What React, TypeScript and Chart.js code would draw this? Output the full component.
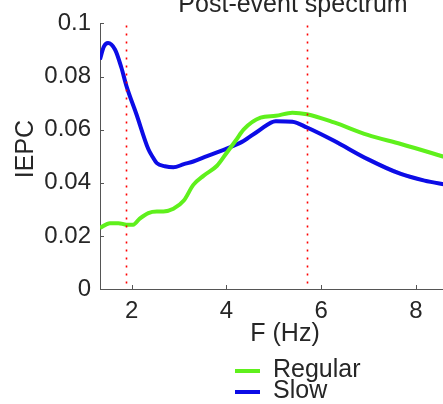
import React, { useEffect, useRef } from "react";
import { Chart, registerables } from "chart.js";
Chart.register(...registerables);

// ---- data ----
const freqSlow = [1.33, 1.41, 1.5, 1.65, 1.78, 1.89, 2.1, 2.35, 2.45, 2.53, 2.7, 2.88, 3.1, 3.3, 3.59, 3.8, 4.1, 4.36, 4.68, 5.04, 5.39, 5.7, 6.27, 6.98, 7.68, 8.18, 8.65];
const slowIEPC = [0.0864, 0.0912, 0.0926, 0.0901, 0.0835, 0.0764, 0.0658, 0.0527, 0.0495, 0.0474, 0.0462, 0.0458, 0.047, 0.048, 0.05, 0.0514, 0.0535, 0.0557, 0.0596, 0.0632, 0.063, 0.0608, 0.0558, 0.0489, 0.0433, 0.0408, 0.0392];

const freqRegular = [1.33, 1.54, 1.72, 1.89, 2.03, 2.17, 2.35, 2.53, 2.67, 2.88, 3.1, 3.3, 3.52, 3.8, 4.01, 4.2, 4.36, 4.72, 5.04, 5.39, 5.7, 6.27, 6.98, 7.68, 8.65];
const regularIEPC = [0.023, 0.0248, 0.0248, 0.0242, 0.0242, 0.0265, 0.0286, 0.0292, 0.0292, 0.0302, 0.0333, 0.0392, 0.0427, 0.0464, 0.0514, 0.056, 0.06, 0.0645, 0.0652, 0.0664, 0.0658, 0.0627, 0.058, 0.0546, 0.0495];

const freqBand = [4.68, 5.04, 5.39, 5.7, 6.27, 6.98, 7.68, 8.18, 8.65];
const slowUpper = [0.0601, 0.0638, 0.0637, 0.0616, 0.0567, 0.0498, 0.0441, 0.0414, 0.0398];
const slowLower = [0.0591, 0.0626, 0.0623, 0.06, 0.0549, 0.048, 0.0425, 0.0402, 0.0386];

const markerFreqs = [1.89, 5.7];
const xTickValues = [2, 4, 6, 8];
const yTickValues = [0, 0.02, 0.04, 0.06, 0.08, 0.1];
const seriesNames = ["Regular", "Slow"];
const titleText = "Post-event spectrum";
const xTitleText = "F (Hz)";
const yTitleText = "IEPC";

const GREEN = "#5ff01c";
const BLUE = "#0c0ce6";
const TEXT = "#262626";
const AXIS = "#555555";
const FONT = '"Liberation Sans", Arial, Helvetica, sans-serif';

const toPts = (xs: number[], ys: number[]) => xs.map((x, i) => ({ x, y: ys[i] }));

const decorations = {
  id: "decorations",
  afterDraw(chart: any) {
    const { ctx, chartArea, scales } = chart;
    const xs = scales.x;
    const ys = scales.y;
    ctx.save();
    // red dotted markers
    ctx.strokeStyle = "#ff0000";
    ctx.lineWidth = 1.6;
    ctx.setLineDash([2, 6]);
    markerFreqs.forEach((f) => {
      const px = Math.round(xs.getPixelForValue(f)) + 0.5;
      ctx.beginPath();
      ctx.moveTo(px, chartArea.top + 2);
      ctx.lineTo(px, chartArea.bottom);
      ctx.stroke();
    });
    ctx.setLineDash([]);
    // inward ticks
    ctx.strokeStyle = AXIS;
    ctx.lineWidth = 1;
    xTickValues.forEach((v) => {
      const px = Math.round(xs.getPixelForValue(v)) + 0.5;
      ctx.beginPath();
      ctx.moveTo(px, chartArea.bottom);
      ctx.lineTo(px, chartArea.bottom - 4);
      ctx.stroke();
    });
    yTickValues.forEach((v) => {
      const py = Math.round(ys.getPixelForValue(v)) + 0.5;
      ctx.beginPath();
      ctx.moveTo(chartArea.left, py);
      ctx.lineTo(chartArea.left + 4, py);
      ctx.stroke();
    });
    // texts
    ctx.fillStyle = TEXT;
    ctx.font = `25px ${FONT}`;
    ctx.textAlign = "center";
    ctx.textBaseline = "alphabetic";
    ctx.fillText(titleText, 293, 12);
    ctx.fillText(xTitleText, 285, 341);
    ctx.save();
    ctx.translate(33, 149);
    ctx.rotate(-Math.PI / 2);
    ctx.fillText(yTitleText, 0, 0);
    ctx.restore();
    // legend
    const colors = [GREEN, BLUE];
    const rows = [371, 392];
    seriesNames.forEach((name, i) => {
      ctx.strokeStyle = colors[i];
      ctx.lineWidth = 4;
      ctx.beginPath();
      ctx.moveTo(235, rows[i]);
      ctx.lineTo(260, rows[i]);
      ctx.stroke();
      ctx.fillStyle = TEXT;
      ctx.textAlign = "left";
      ctx.fillText(name, 273, rows[i] + 6);
    });
    ctx.restore();
  },
};

export default function App() {
  const ref = useRef<HTMLCanvasElement>(null);
  useEffect(() => {
    if (!ref.current) return;
    const chart = new Chart(ref.current, {
      type: "line",
      data: {
        datasets: [
          {
            label: seriesNames[0],
            data: toPts(freqRegular, regularIEPC),
            borderColor: GREEN,
            borderWidth: 4,
            pointRadius: 0,
            cubicInterpolationMode: "monotone",
            fill: false,
          },
          {
            label: seriesNames[1],
            data: toPts(freqSlow, slowIEPC),
            borderColor: BLUE,
            borderWidth: 4,
            pointRadius: 0,
            cubicInterpolationMode: "monotone",
            fill: false,
          },
          {
            label: "band-upper",
            data: toPts(freqBand, slowUpper),
            borderWidth: 0,
            borderColor: "rgba(0,0,0,0)",
            backgroundColor: "rgba(90,90,255,0.3)",
            pointRadius: 0,
            cubicInterpolationMode: "monotone",
            fill: "+1",
          },
          {
            label: "band-lower",
            data: toPts(freqBand, slowLower),
            borderWidth: 0,
            borderColor: "rgba(0,0,0,0)",
            pointRadius: 0,
            cubicInterpolationMode: "monotone",
            fill: false,
          },
        ],
      },
      options: {
        animation: false,
        responsive: false,
        layout: { padding: { left: 0, top: 22, right: 4, bottom: 0 } },
        plugins: { legend: { display: false }, tooltip: { enabled: false }, title: { display: false } },
        scales: {
          x: {
            type: "linear",
            min: 1.331,
            max: 9.055,
            afterFit: (s: any) => {
              s.height = 115;
            },
            afterBuildTicks: (s: any) => {
              s.ticks = xTickValues.map((v) => ({ value: v }));
            },
            grid: { display: true, drawOnChartArea: false, drawTicks: false },
            border: { display: true, color: AXIS, width: 1 },
            ticks: {
              color: TEXT,
              font: { family: FONT, size: 24 },
              padding: 8,
              maxRotation: 0,
              autoSkip: false,
              callback: (v: any) => String(v),
            },
          },
          y: {
            type: "linear",
            min: 0,
            max: 0.1,
            afterFit: (s: any) => {
              s.width = 100;
            },
            afterBuildTicks: (s: any) => {
              s.ticks = yTickValues.map((v) => ({ value: v }));
            },
            grid: { display: true, drawOnChartArea: false, drawTicks: false },
            border: { display: true, color: AXIS, width: 1 },
            ticks: {
              color: TEXT,
              font: { family: FONT, size: 24 },
              padding: 9,
              autoSkip: false,
              callback: (v: any) => String(Number(Number(v).toFixed(2))),
            },
          },
        },
      },
      plugins: [decorations],
    } as any);
    return () => chart.destroy();
  }, []);
  return (
    <div style={{ position: "fixed", left: 0, top: 0, width: 443, height: 404, overflow: "hidden", background: "#fff" }}>
      <canvas ref={ref} width={470} height={404} style={{ display: "block" }} />
    </div>
  );
}
